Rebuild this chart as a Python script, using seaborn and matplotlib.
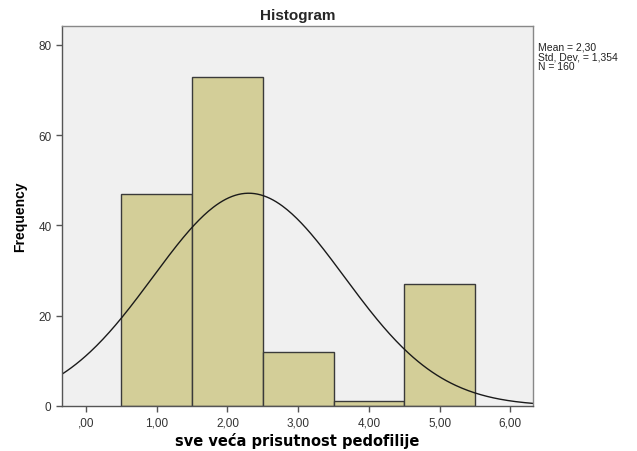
import numpy as np
import pandas as pd
import seaborn as sns
import matplotlib.pyplot as plt

# Podaci očitani sa histograma
categories = [1, 2, 3, 4, 5]
counts = [47, 73, 12, 1, 27]
mean, std, n = 2.30, 1.354, 160
xTicks = [0, 1, 2, 3, 4, 5, 6]
xTickLabels = [",00", "1,00", "2,00", "3,00", "4,00", "5,00", "6,00"]
yTicks = [0, 20, 40, 60, 80]

sns.set_style("white")
plt.rcParams['font.family'] = ['Liberation Sans', 'DejaVu Sans']

df = pd.DataFrame({'vrednost': categories, 'broj': counts})

fig = plt.figure(figsize=(6.37, 4.52), dpi=100)
ax = fig.add_axes([0.0973, 0.0996, 0.7394, 0.8407])
ax.set_facecolor('#F0F0F0')

sns.histplot(data=df, x='vrednost', weights='broj', binwidth=1, binrange=(0.5, 5.5),
             color='#D3CE98', edgecolor='#3A3A3A', linewidth=1.0, alpha=1, ax=ax)

# Normalna kriva (N * širina bina * gustina)
x = np.linspace(-0.34, 6.32, 300)
y = n * 1.0 * np.exp(-0.5 * ((x - mean) / std) ** 2) / (std * np.sqrt(2 * np.pi))
sns.lineplot(x=x, y=y, color='#1A1A1A', linewidth=1.0, ax=ax)

ax.set_xlim(-0.34, 6.32)
ax.set_ylim(0, 84.2)
ax.set_xticks(xTicks)
ax.set_xticklabels(xTickLabels, fontsize=8.5, color='#333333')
ax.set_yticks(yTicks)
ax.set_yticklabels([str(t) for t in yTicks], fontsize=8.5, color='#333333')
ax.tick_params(direction='out', length=4, width=1, color='#555555', bottom=True, left=True)
for s in ax.spines.values():
    s.set_color('#888888')
    s.set_linewidth(1)
ax.spines['left'].set_color('#555555')
ax.spines['bottom'].set_color('#555555')

ax.set_xlabel('sve veća prisutnost pedofilije', fontsize=10.5, fontweight='bold',
              family='DejaVu Sans', color='black', labelpad=2.5)
ax.set_ylabel('Frequency', fontsize=10, fontweight='bold', color='black', labelpad=8)
ax.set_title('Histogram', fontsize=11, fontweight='bold', pad=5)

fig.text(538 / 637, 1 - 42 / 452, f"Mean = {mean:.2f}".replace('.', ',') + "\n"
         + f"Std. Dev. = {std:.3f}".replace('.', ',') + f"\nN = {n}",
         fontsize=7.5, va='top', ha='left', linespacing=1.0, color='#222222')

plt.savefig('out.png', dpi=100)
